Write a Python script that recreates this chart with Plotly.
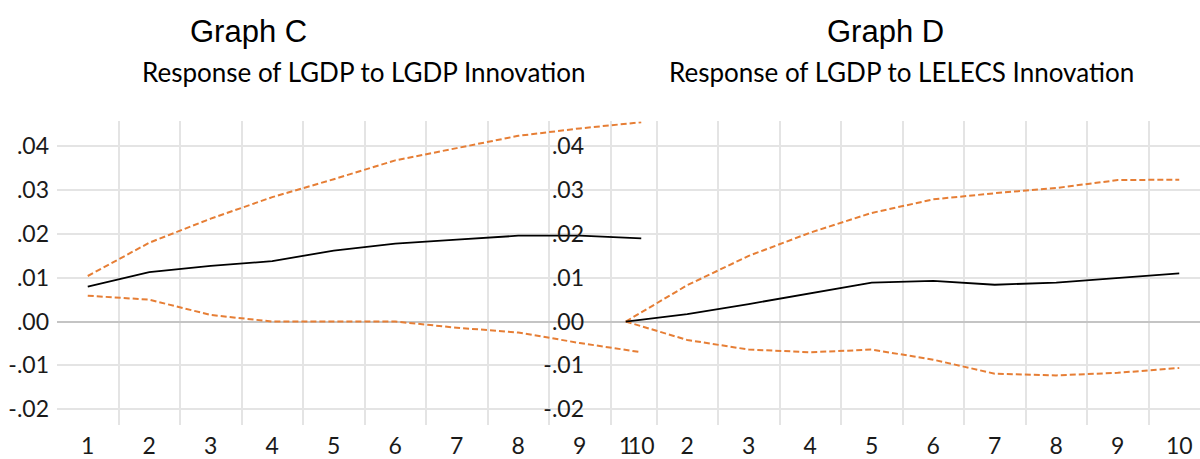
import plotly.graph_objects as go

# Forecast horizon (periods)
periods = [1, 2, 3, 4, 5, 6, 7, 8, 9, 10]

# Graph C: response of LGDP to an LGDP innovation
c_response = [0.0080, 0.0113, 0.0127, 0.0138, 0.0162, 0.0178, 0.0187, 0.0196, 0.0196, 0.0190]
c_upper = [0.0104, 0.0180, 0.0235, 0.0284, 0.0325, 0.0368, 0.0396, 0.0424, 0.0441, 0.0455]
c_lower = [0.0059, 0.0050, 0.0015, 0.0000, 0.0000, 0.0000, -0.0014, -0.0025, -0.0049, -0.0070]

# Graph D: response of LGDP to an LELECS innovation
d_response = [0.0, 0.0017, 0.0040, 0.0064, 0.0089, 0.0093, 0.0084, 0.0089, 0.0100, 0.0110]
d_upper = [0.0, 0.0083, 0.0150, 0.0203, 0.0248, 0.0279, 0.0293, 0.0305, 0.0323, 0.0324]
d_lower = [0.0, -0.0042, -0.0064, -0.0070, -0.0064, -0.0087, -0.0119, -0.0123, -0.0117, -0.0106]

y_tick_values = [-0.02, -0.01, 0.0, 0.01, 0.02, 0.03, 0.04]
y_tick_labels = ["-.02", "-.01", ".00", ".01", ".02", ".03", ".04"]

titles = ["Graph C", "Graph D"]
subtitles = ["Response of LGDP to LGDP Innovation", "Response of LGDP to LELECS Innovation"]

W, H = 1200, 459
ORANGE = "#E67E35"
GRID = "#E4E4E4"
TICK_FONT = dict(family="Lato, Noto Sans, sans-serif", size=23, color="#1a1a1a")

# category boundaries carry the vertical grid
boundaries = [p + 0.5 for p in periods[:-1]]

fig = go.Figure()

panels = [
    ("x", "y", c_response, c_upper, c_lower),
    ("x2", "y2", d_response, d_upper, d_lower),
]
for xa, ya, resp, up, lo in panels:
    fig.add_trace(go.Scatter(x=periods, y=up, xaxis=xa, yaxis=ya, mode="lines",
                             line=dict(color=ORANGE, width=2, dash="6px,3px"),
                             showlegend=False, hoverinfo="skip"))
    fig.add_trace(go.Scatter(x=periods, y=lo, xaxis=xa, yaxis=ya, mode="lines",
                             line=dict(color=ORANGE, width=2, dash="6px,3px"),
                             showlegend=False, hoverinfo="skip"))
    fig.add_trace(go.Scatter(x=periods, y=resp, xaxis=xa, yaxis=ya, mode="lines",
                             line=dict(color="black", width=1.8),
                             showlegend=False, hoverinfo="skip"))

y_domain = [28 / H, 1 - 123 / H]
y_range = [-0.0237, 0.0457]

xcommon = dict(
    showgrid=False, zeroline=False, showline=False, ticks="",
    tickmode="array", tickvals=periods, ticktext=[str(p) for p in periods],
    tickfont=TICK_FONT, ticklabelstandoff=5,
    minor=dict(tickmode="array", tickvals=boundaries, showgrid=True,
               gridcolor=GRID, gridwidth=2),
    fixedrange=True,
)
ycommon = dict(
    range=y_range, domain=y_domain, showline=False, ticks="",
    tickmode="array", tickvals=y_tick_values, ticktext=y_tick_labels,
    tickfont=TICK_FONT, showgrid=True, gridcolor=GRID, gridwidth=2,
    zeroline=True, zerolinecolor="#C4C4C4", zerolinewidth=2,
    fixedrange=True,
)

fig.update_layout(
    width=W, height=H,
    margin=dict(l=0, r=0, t=0, b=0),
    paper_bgcolor="white",
    plot_bgcolor="rgba(0,0,0,0)",
    xaxis=dict(domain=[57 / W, 672 / W], range=[0.5, 10.5], anchor="y", **xcommon),
    yaxis=dict(anchor="x", ticklabelstandoff=7, **ycommon),
    xaxis2=dict(domain=[595 / W, 1.0], range=[0.5, 0.5 + (W - 595) / 61.5], anchor="y2", **xcommon),
    yaxis2=dict(anchor="x2", ticklabelstandoff=10, **ycommon),
)

title_pos = [(248.5, 885.5), (364, 901.5)]
for i in range(2):
    fig.add_annotation(text=titles[i], xref="paper", yref="paper",
                       x=title_pos[0][i] / W, y=1 - 32 / H, xanchor="center", yanchor="middle",
                       showarrow=False,
                       font=dict(family="Liberation Sans, Arial, sans-serif", size=31, color="black"))
    fig.add_annotation(text=subtitles[i], xref="paper", yref="paper",
                       x=title_pos[1][i] / W, y=1 - 73 / H, xanchor="center", yanchor="middle",
                       showarrow=False,
                       font=dict(family="Lato, Noto Sans, sans-serif", size=26, color="black"))

fig.write_html("out.html", config={"displayModeBar": False})
